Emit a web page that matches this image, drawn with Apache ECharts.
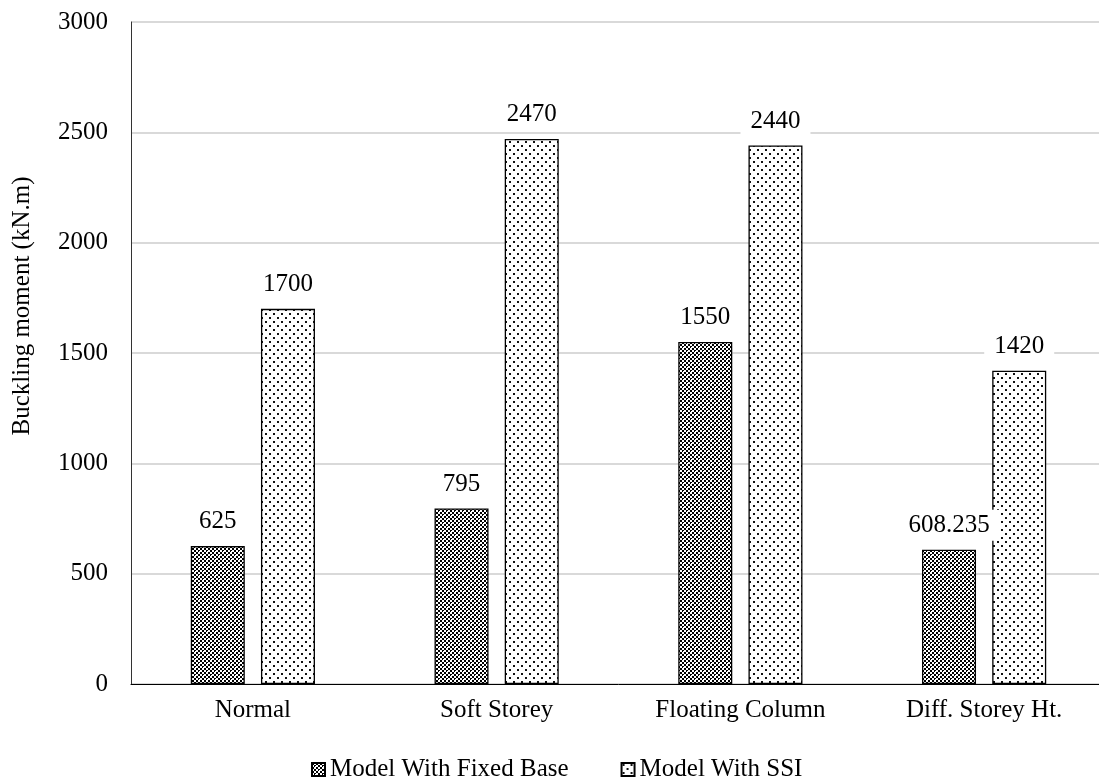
<!DOCTYPE html>
<html>
<head>
<meta charset="utf-8">
<script src="https://cdn.jsdelivr.net/npm/echarts@6/dist/echarts.min.js"></script>
<style>
html,body{margin:0;padding:0;background:#fff;overflow:hidden;}
#c{width:1110px;height:782px;}
</style>
</head>
<body>
<div id="c"></div>
<script>
const categories = ['Normal', 'Soft Storey', 'Floating Column', 'Diff. Storey Ht.'];
const fixedBase = [625, 795, 1550, 608.235];
const withSSI = [1700, 2470, 2440, 1420];
const seriesNames = ['Model With Fixed Base', 'Model With SSI'];
const yTicks = [0, 500, 1000, 1500, 2000, 2500, 3000];
const yTitle = 'Buckling moment (kN.m)';

function makeDense() {
  const c = document.createElement('canvas');
  c.width = 8; c.height = 8;
  const ctx = c.getContext('2d');
  ctx.fillStyle = '#fff'; ctx.fillRect(0, 0, 8, 8);
  ctx.fillStyle = '#000';
  for (let x = 0; x < 8; x++) for (let y = 0; y < 8; y++) {
    const bx = Math.floor(x / 2), by = Math.floor(y / 2);
    if ((bx + by) % 2 === 0) ctx.fillRect(x, y, 1, 1);
  }
  ctx.fillStyle = '#fff';
  ctx.fillRect(3, 3, 1, 1);
  ctx.fillRect(7, 7, 1, 1);
  return c;
}
function makeDots() {
  const c = document.createElement('canvas');
  c.width = 8; c.height = 8;
  const ctx = c.getContext('2d');
  ctx.fillStyle = '#fff'; ctx.fillRect(0, 0, 8, 8);
  ctx.fillStyle = '#111';
  ctx.fillRect(1, 1, 2, 2);
  ctx.fillRect(5, 5, 2, 2);
  return c;
}
const densePat = { image: makeDense(), repeat: 'repeat' };
const dotPat = { image: makeDots(), repeat: 'repeat' };

const font = '"Liberation Serif", "Times New Roman", serif';
const FS = 25;
const chart = echarts.init(document.getElementById('c'), null, { renderer: 'canvas' });
const labelCfg = {
  show: true, position: 'top', distance: 9,
  fontFamily: font, fontSize: FS, color: '#000',
  backgroundColor: '#fff', padding: [3, 10]
};
chart.setOption({
  animation: false,
  backgroundColor: '#fff',
  textStyle: { fontFamily: font },
  grid: { left: 131, width: 975, top: 22, bottom: 98, containLabel: false },
  graphic: [{
    type: 'text', x: 22, y: 306, rotation: Math.PI / 2,
    style: { text: yTitle, font: FS + 'px ' + font, fill: '#000', align: 'center', verticalAlign: 'middle' }
  }],
  legend: {
    top: 752, left: 306,
    icon: 'rect',
    itemWidth: 13, itemHeight: 13, itemGap: 52,
    textStyle: { fontFamily: font, fontSize: FS, color: '#000' },
    data: seriesNames
  },
  xAxis: {
    type: 'category', data: categories,
    axisLine: { lineStyle: { color: '#000', width: 1 } },
    axisTick: { show: false },
    axisLabel: { fontFamily: font, fontSize: FS, color: '#000', margin: 14 }
  },
  yAxis: {
    type: 'value', min: 0, max: 3000, interval: 500,
    axisLine: { show: true, lineStyle: { color: '#333', width: 1 } },
    axisTick: { show: false },
    axisLabel: { fontFamily: font, fontSize: FS, color: '#000', margin: 23,
      formatter: v => yTicks.includes(v) ? String(v) : '' },
    splitLine: { lineStyle: { color: '#d9d9d9', width: 2 } }
  },
  series: [
    {
      name: seriesNames[0], type: 'bar', data: fixedBase,
      barWidth: 54, barGap: '30%',
      itemStyle: { color: densePat, borderColor: '#000', borderWidth: 1.3 },
      label: Object.assign({}, labelCfg)
    },
    {
      name: seriesNames[1], type: 'bar', data: withSSI,
      barWidth: 54, barGap: '30%',
      itemStyle: { color: dotPat, borderColor: '#000', borderWidth: 1.3 },
      label: Object.assign({}, labelCfg)
    }
  ]
});
</script>
</body>
</html>
